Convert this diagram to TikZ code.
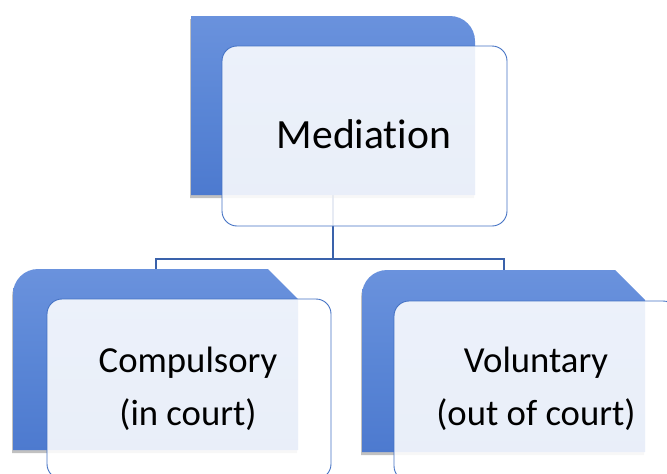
\documentclass[tikz,border=0pt]{standalone}
\usepackage{fontspec}
\setmainfont{Carlito}[RawFeature={-liga;-clig;-calt;-dlig;-rlig}]
\usetikzlibrary{shadows}
\definecolor{bluetop}{HTML}{6A92DD}
\definecolor{bluemid}{HTML}{5A86D6}
\definecolor{bluebot}{HTML}{4D7ACF}
\definecolor{boxline}{HTML}{4472C4}
\definecolor{conn}{HTML}{3A62AB}
\tikzset{
  bluebox/.style={top color=bluetop, bottom color=bluebot, middle color=bluemid, draw=none,
    drop shadow={shadow xshift=-1pt, shadow yshift=-3pt, opacity=0.35, fill=black!70}},
  textbox/.style={draw=boxline, line width=0.9pt, fill=white, fill opacity=0.88, rounded corners=15pt},
  connector/.style={draw=conn, line width=2pt},
  bigtext/.style={font=\fontsize{41.6}{50}\selectfont, text=black, inner sep=0pt},
  smalltext/.style={font=\fontsize{36.7}{52.5}\selectfont, text=black, inner sep=0pt, align=center}
}
\begin{document}
\begin{tikzpicture}[x=1pt,y=-1pt]
\useasboundingbox (0,0) rectangle (667,474);
\clip (0,0) rectangle (667,474);
% anchor coordinates
\coordinate (topb) at (333,195);
\coordinate (leftb) at (155.5,269);
\coordinate (rightb) at (503.5,270);
% connectors
\draw[connector] (topb) -- (333,259) -| (leftb);
\draw[connector] (topb) -- (333,259) -| (rightb);
% blue shapes
\path[bluebox] (191,195) -- (191,16) -- (450,16) .. controls (463.8,16) and (475,27.2) .. (475,41) -- (475,195) -- cycle;
\path[bluebox] (13,450) -- (13,294) .. controls (13,280.2) and (24.2,269) .. (38,269) -- (268,269) -- (298,299) -- (298,450) -- cycle;
\path[bluebox] (362,452) -- (362,295) .. controls (362,281.2) and (373.2,270) .. (387,270) -- (615,270) -- (645,300) -- (645,452) -- cycle;
% white boxes
\draw[textbox] (222,46) rectangle (507,226);
\draw[textbox] (47,299) rectangle (331,479);
\draw[textbox] (394,301) rectangle (678,481);
% texts
\node[bigtext, anchor=base] (med) at (364,148) {Mediation};
\node[smalltext, anchor=base] (comp) at (188,425) {Compulsory\\(in court)};
\node[smalltext, anchor=base] (vol) at (536,425) {Voluntary\\(out of court)};
\end{tikzpicture}
\end{document}
